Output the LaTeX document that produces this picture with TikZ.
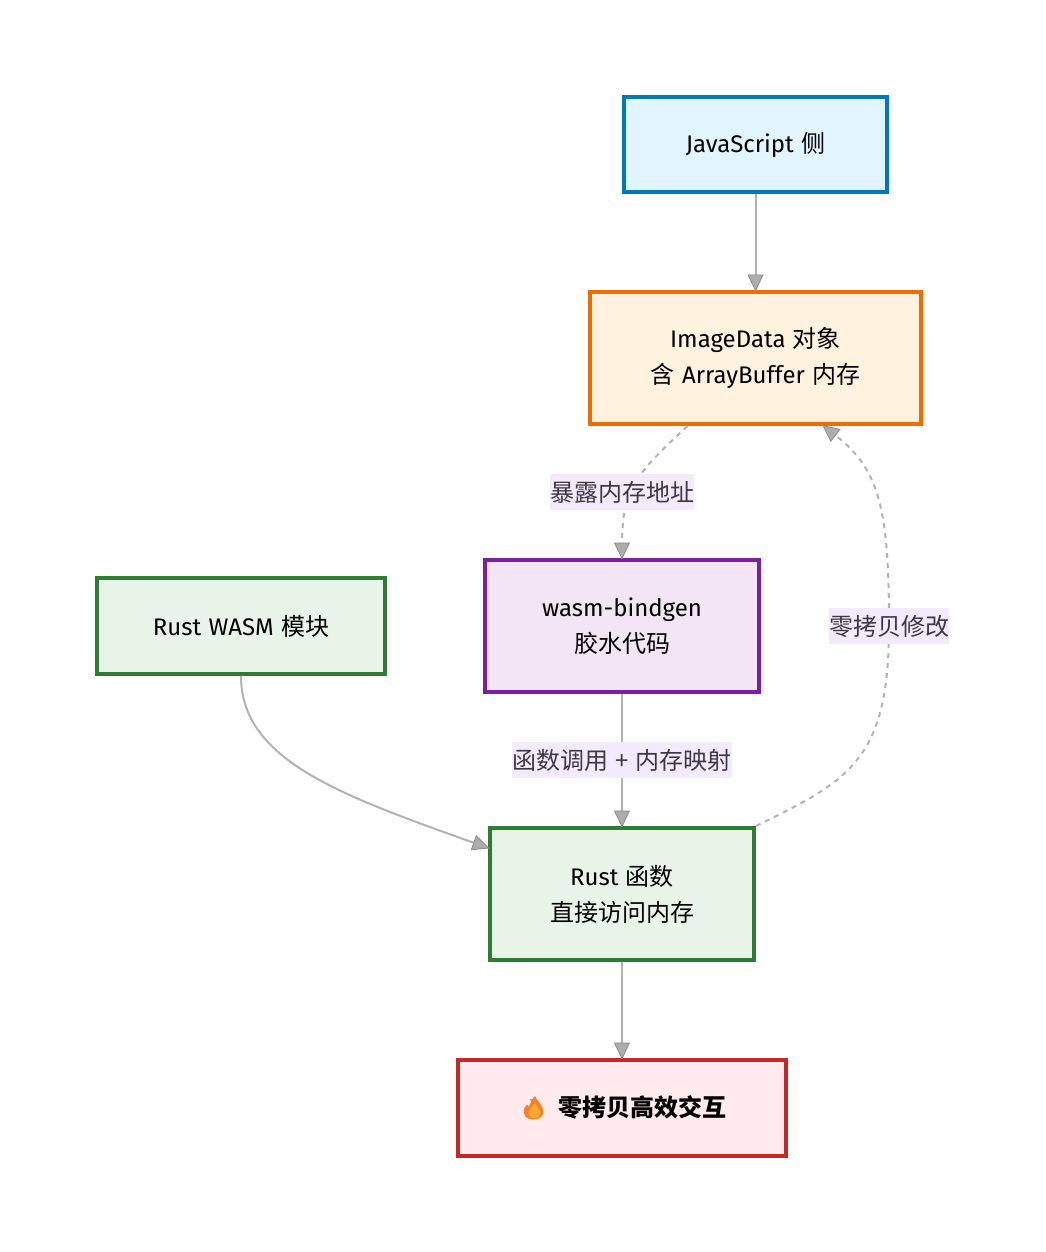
\documentclass[tikz,border=0pt]{standalone}
\usepackage{fontspec}
\setmainfont{Fira Sans}[WordSpace=1.15]
\newfontfamily\cjk{Noto Sans CJK SC}[WordSpace=1.3]
\newfontfamily\emojifont{Noto Emoji}
\usetikzlibrary{arrows.meta}

\definecolor{edgegray}{HTML}{B2B2B2}
\definecolor{tipfill}{HTML}{ADADAD}
\definecolor{tipgray}{HTML}{8C8C8C}
\definecolor{labelbg}{HTML}{F3EBFD}
\definecolor{labeltxt}{HTML}{3C3844}
\definecolor{jsfill}{HTML}{E1F5FE}
\definecolor{jsline}{HTML}{0277BD}
\definecolor{imgfill}{HTML}{FFF3E0}
\definecolor{imgline}{HTML}{EF6C00}
\definecolor{gluefill}{HTML}{F3E5F5}
\definecolor{glueline}{HTML}{7B1FA2}
\definecolor{rustfill}{HTML}{E8F4E8}
\definecolor{rustline}{HTML}{2E7D32}
\definecolor{resfill}{HTML}{FFEBEE}
\definecolor{resline}{HTML}{C62828}
\definecolor{flameout}{HTML}{F4802A}
\definecolor{flamein}{HTML}{FFA72E}

\tikzset{
  box/.style 2 args={draw=#1, fill=#2, line width=4pt, align=center, inner sep=0pt,
    font=\fontsize{24}{36}\selectfont},
  flow/.style={draw=edgegray, line width=2pt, shorten >=-1.5pt,
    -{Triangle[length=17pt, width=16pt, fill=tipfill, line width=0.8pt, color=tipgray]}},
  flowdash/.style={flow, dash pattern=on 5pt off 5pt},
  edgelabel/.style={fill=labelbg, text=labeltxt, inner sep=0pt, minimum height=36pt,
    font=\fontsize{24}{36}\selectfont\cjk}
}

\begin{document}
\begin{tikzpicture}[x=1pt, y=-1pt]
  \useasboundingbox (0,0) rectangle (1045,1252);

 %boxes
    \foreach \cx/\cy/\w/\h/\name/\ln/\fl/\txt in {
        755.5/144.5/263/95/js/jsline/jsfill/{JavaScript {\cjk 侧}},
        755.5/358/331/132/imgdata/imgline/imgfill/{ImageData {\cjk 对象}\\{\cjk 含} ArrayBuffer {\cjk 内存}},
        622/626/274/132/glue/glueline/gluefill/{wasm-bindgen\\{\cjk 胶水代码}},
        241/626/288/96/wasm/rustline/rustfill/{Rust WASM {\cjk 模块}},
        622/894/264/132/rustfn/rustline/rustfill/{Rust {\cjk 函数}\\{\cjk 直接访问内存}}} {
         \node[box={\ln}{\fl}, minimum width=\w, minimum height=\h] (\name) at (\cx,\cy) {\txt};
    }
    \node[box={resline}{resfill}, minimum width=328, minimum height=96] (result) at (622,1108)
        {\hspace*{2pt}{\fontsize{20}{36}\emojifont\textcolor{flameout}{🔥}}\hspace{7pt} {\cjk\textbf{零拷贝高效交互}}};

 %flame colours
    \fill[flameout] (534,1119.5) .. controls (528,1119.5) and (525,1116) .. (525,1111.5)
        .. controls (525,1108) and (526,1106) .. (527.5,1104.5)
        .. controls (528,1106) and (529,1107) .. (530,1107.5)
        .. controls (530,1103) and (532,1099) .. (535,1096)
        .. controls (536,1100) and (543.3,1105) .. (543.3,1111.5)
        .. controls (543.3,1116) and (540,1119.5) .. (534,1119.5) -- cycle;
    \fill[flamein] (534.3,1118.3) .. controls (531,1118.3) and (528.5,1116) .. (528.5,1113)
        .. controls (528.5,1109) and (533,1107) .. (535,1102.5)
        .. controls (537,1106) and (540.5,1109) .. (540.5,1113)
        .. controls (540.5,1116) and (538,1118.3) .. (534.3,1118.3) -- cycle;

 %straight arrows
    \draw[flow] (js) -- (imgdata);
    \draw[flow] (glue) -- node[edgelabel, minimum width=220pt] (lblcall) {函数调用 + 内存映射} (rustfn);
    \draw[flow] (rustfn) -- (result);

 %curved arrows
    \draw[flow] (wasm.south) .. controls (241,760) and (340,795) .. (rustfn.161);
    \draw[flowdash] (imgdata.-135) .. controls (660,452) and (630,478) .. (625,508)
        .. controls (622,525) and (622,540) .. (glue.north);
    \node[edgelabel, minimum width=144pt] (lblexpose) at (622,492) {暴露内存地址};
    \draw[flowdash] (rustfn.north east) .. controls (850,780) and (889,760) .. (889,626)
        node[edgelabel, minimum width=120pt] (lblzero) {零拷贝修改}
        .. controls (889,510) and (880,470) .. (imgdata.-45);

\end{tikzpicture}
\end{document}
